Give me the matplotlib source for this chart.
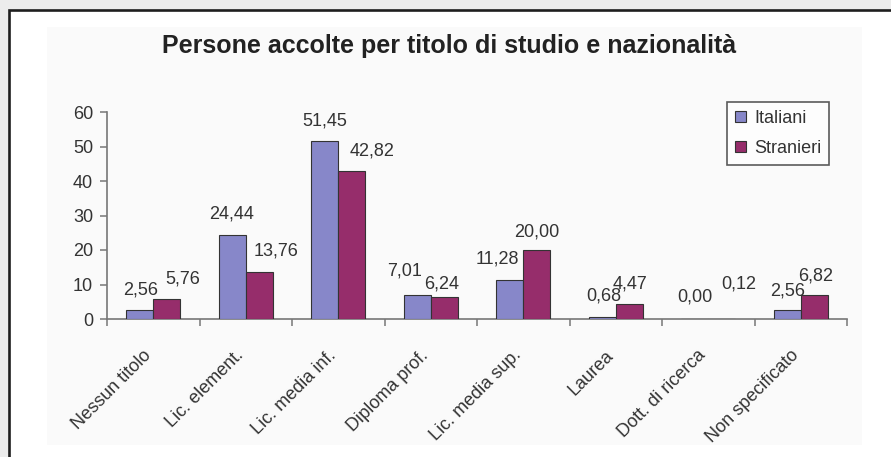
import matplotlib
matplotlib.use("Agg")
import matplotlib.pyplot as plt
from matplotlib.patches import Rectangle
from matplotlib.transforms import ScaledTranslation
import numpy as np

categories = ["Nessun titolo", "Lic. element.", "Lic. media inf.", "Diploma prof.",
              "Lic. media sup.", "Laurea", "Dott. di ricerca", "Non specificato"]
italiani = [2.56, 24.44, 51.45, 7.01, 11.28, 0.68, 0.00, 2.56]
stranieri = [5.76, 13.76, 42.82, 6.24, 20.00, 4.47, 0.12, 6.82]
series_names = ["Italiani", "Stranieri"]
y_ticks = [0, 10, 20, 30, 40, 50, 60]

# label nudges (pixels) so neighbouring value labels do not collide
ita_dx = [1, -1, 0, -13, -12, 1, 0, 0]
ita_dy = [16, 16, 16, 19, 17, 16, 17, 15]
str_dx = [16, 17, 20, -3, 0, 1, 17, 1]
str_dy = [16, 16, 16, 9, 14, 15, 30, 15]

plt.rcParams["font.family"] = ["Liberation Sans", "DejaVu Sans"]
TXT = "#333333"
C_ITA = "#8787c9"
C_STR = "#962d6b"

W, H = 891, 457
fig = plt.figure(figsize=(W / 100, H / 100), dpi=100, facecolor="#ececec")

# white sheet with dark frame
fig.patches.append(Rectangle((9 / W, -0.2), 1.2, 1.2 - 10 / H,
                             transform=fig.transFigure, facecolor="white",
                             edgecolor="#1e1e1e", linewidth=1.9, zorder=-3))
# faint chart area
fig.patches.append(Rectangle((47 / W, 1 - 445 / H), (862 - 47) / W, (445 - 27) / H,
                             transform=fig.transFigure, facecolor="#fafafa",
                             edgecolor="none", zorder=-2))

ax = fig.add_axes([107 / W, 1 - 319 / H, (847 - 107) / W, (319 - 112) / H])
ax.set_facecolor("none")

x = np.arange(len(categories))
bw = 0.29
b1 = ax.bar(x - bw / 2, italiani, bw, color=C_ITA, edgecolor="#333333",
            linewidth=0.8, label=series_names[0], zorder=3)
b2 = ax.bar(x + bw / 2, stranieri, bw, color=C_STR, edgecolor="#333333",
            linewidth=0.8, label=series_names[1], zorder=3)

def fmt(v):
    return f"{v:.2f}".replace(".", ",")

for i in range(len(categories)):
    ax.annotate(fmt(italiani[i]), (x[i] - bw / 2, italiani[i]),
                xytext=(ita_dx[i], ita_dy[i]), textcoords="offset pixels",
                ha="center", va="baseline", fontsize=13, color=TXT)
    ax.annotate(fmt(stranieri[i]), (x[i] + bw / 2, stranieri[i]),
                xytext=(str_dx[i], str_dy[i]), textcoords="offset pixels",
                ha="center", va="baseline", fontsize=13, color=TXT)

ax.set_xlim(-0.5, len(categories) - 0.5)
ax.set_ylim(0, 60)
ax.set_yticks(y_ticks)
ax.set_yticklabels([str(t) for t in y_ticks])

ax.set_xticks(x)
ax.set_xticklabels(categories, rotation=45, ha="right", va="top",
                   rotation_mode="anchor")
ax.set_xticks(np.arange(-0.5, len(categories)), minor=True)
ax.tick_params(axis="x", which="major", length=0, pad=20, labelsize=13,
               labelcolor=TXT)
ax.tick_params(axis="x", which="minor", length=5, width=1.1, color="#777777",
               direction="out")
ax.tick_params(axis="y", length=5, width=1.1, color="#777777", pad=5,
               labelsize=13, labelcolor=TXT)
shift = ScaledTranslation(-11 / 100, 0, fig.dpi_scale_trans)
for lbl in ax.get_xticklabels():
    lbl.set_transform(lbl.get_transform() + shift)

for s in ("top", "right"):
    ax.spines[s].set_visible(False)
for s in ("left", "bottom"):
    ax.spines[s].set_color("#777777")
    ax.spines[s].set_linewidth(1.2)

fig.text(449 / W, 1 - 53 / H, "Persone accolte per titolo di studio e nazionalità",
         ha="center", va="baseline", fontsize=18, fontweight="bold", color="#222222")

leg = fig.legend(handles=[b1, b2], labels=series_names, loc="upper left",
                 bbox_to_anchor=(727 / W, 1 - 102 / H), borderaxespad=0,
                 fontsize=13, handlelength=0.6, handleheight=0.6,
                 handletextpad=0.45, labelspacing=0.7, borderpad=0.45,
                 fancybox=False, frameon=True)
leg.get_frame().set_edgecolor("#333333")
leg.get_frame().set_linewidth(1.2)
leg.get_frame().set_facecolor("white")
for t in leg.get_texts():
    t.set_color(TXT)

fig.savefig("out.png", dpi=100, facecolor=fig.get_facecolor())
